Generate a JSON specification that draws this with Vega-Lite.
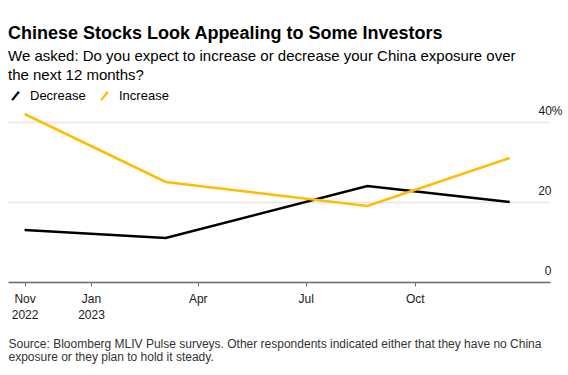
{
  "$schema": "https://vega.github.io/schema/vega-lite/v6.json",
  "width": 542,
  "height": 176,
  "autosize": {"type": "none"},
  "padding": {"left": 8, "top": 106, "right": 18, "bottom": 93},
  "background": "white",
  "config": {"view": {"stroke": null}, "font": "Liberation Sans"},
  "title": {
    "text": "Chinese Stocks Look Appealing to Some Investors",
    "subtitle": ["We asked: Do you expect to increase or decrease your China exposure over", "the next 12 months?"],
    "anchor": "start",
    "frame": "group",
    "font": "Liberation Sans",
    "fontSize": 18,
    "fontWeight": "bold",
    "color": "#000000",
    "subtitleFont": "Liberation Sans",
    "subtitleFontSize": 15,
    "subtitleColor": "#000000",
    "subtitleLineHeight": 19,
    "subtitlePadding": 6,
    "offset": 6
  },
  "data": {
    "values": [
      {"date": "2022-11-06", "series": "Decrease", "value": 13},
      {"date": "2023-03-05", "series": "Decrease", "value": 11},
      {"date": "2023-08-22", "series": "Decrease", "value": 24},
      {"date": "2023-12-20", "series": "Decrease", "value": 20},
      {"date": "2022-11-06", "series": "Increase", "value": 42},
      {"date": "2023-03-05", "series": "Increase", "value": 25},
      {"date": "2023-08-22", "series": "Increase", "value": 19},
      {"date": "2023-12-20", "series": "Increase", "value": 31}
    ]
  },
  "mark": {"type": "line", "strokeWidth": 2.5},
  "encoding": {
    "x": {
      "field": "date",
      "type": "temporal",
      "scale": {"domain": [{"year": 2022, "month": 10, "date": 23}, {"year": 2024, "month": 1, "date": 23}]},
      "axis": {
        "values": [
          {"year": 2022, "month": 11, "date": 6},
          {"year": 2023, "month": 1, "date": 1},
          {"year": 2023, "month": 4, "date": 1},
          {"year": 2023, "month": 7, "date": 1},
          {"year": 2023, "month": 10, "date": 1}
        ],
        "labelExpr": "(month(datum.value) == 0 || month(datum.value) == 10) ? [timeFormat(datum.value, '%b'), timeFormat(datum.value, '%Y')] : timeFormat(datum.value, '%b')",
        "grid": false,
        "domain": true,
        "domainColor": "#6e6e6e",
        "domainWidth": 1.5,
        "ticks": true,
        "tickColor": "#6e6e6e",
        "tickSize": 4,
        "tickWidth": 1,
        "labelFont": "Liberation Sans",
        "labelFontSize": 12,
        "labelColor": "#1a1a1a",
        "labelPadding": 7,
        "labelLineHeight": 16,
        "labelFlush": false,
        "labelOverlap": false,
        "title": ["Source: Bloomberg MLIV Pulse surveys. Other respondents indicated either that they have no China", "exposure or they plan to hold it steady."],
        "titleAnchor": "start",
        "titleAlign": "left",
        "titleFont": "Liberation Sans",
        "titleFontSize": 12,
        "titleFontWeight": "normal",
        "titleColor": "#333333",
        "titleLineHeight": 13,
        "titlePadding": 18
      }
    },
    "y": {
      "field": "value",
      "type": "quantitative",
      "scale": {"domain": [0, 44], "nice": false},
      "axis": {
        "orient": "right",
        "values": [0, 20, 40],
        "labelExpr": "datum.value == 40 ? '40%' : datum.label",
        "domain": false,
        "ticks": false,
        "grid": true,
        "gridColor": "#e6e6e6",
        "gridWidth": 1.5,
        "labelAlign": "right",
        "labelBaseline": "alphabetic",
        "labelOffset": -8,
        "labelPadding": {"condition": {"test": "datum.value == 40", "value": 12}, "value": 1},
        "labelFont": "Liberation Sans",
        "labelFontSize": 12,
        "labelColor": "#1a1a1a",
        "title": null
      }
    },
    "color": {
      "field": "series",
      "type": "nominal",
      "scale": {"domain": ["Decrease", "Increase"], "range": ["#000000", "#FFBC00"]},
      "legend": {
        "title": null,
        "orient": "none",
        "legendX": 1,
        "legendY": -17,
        "direction": "horizontal",
        "padding": 0,
        "symbolType": "M-0.8,1L0.8,-1",
        "symbolSize": 70,
        "symbolStrokeWidth": 2.2,
        "labelFont": "Liberation Sans",
        "labelFontSize": 13,
        "labelColor": "#000000",
        "labelOffset": 8,
        "columnPadding": 10
      }
    }
  }
}
